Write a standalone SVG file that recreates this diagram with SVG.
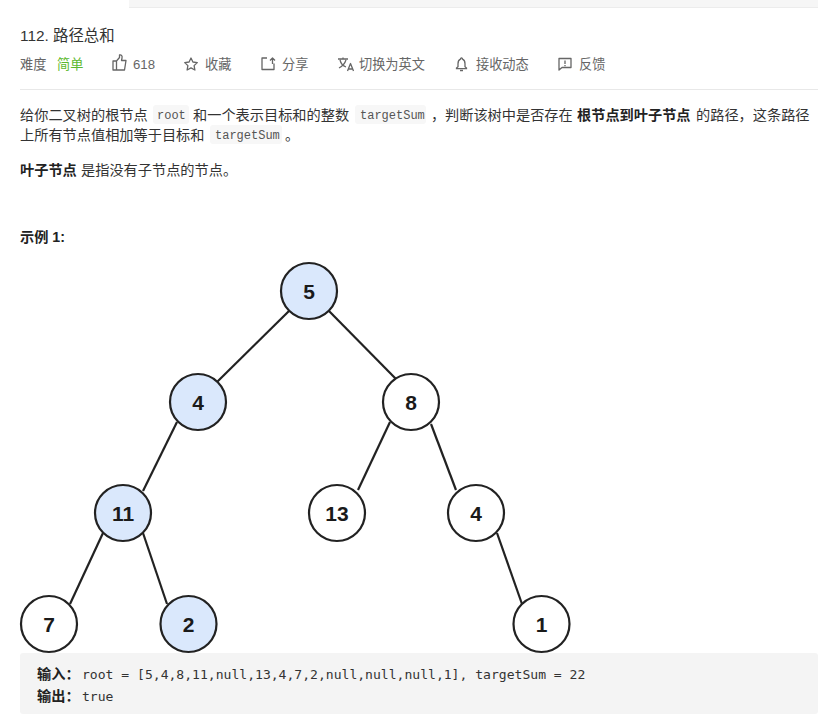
<svg xmlns="http://www.w3.org/2000/svg" width="818" height="714" viewBox="0 0 818 714">
<style>
text{font-family:"Liberation Sans","Noto Sans CJK SC",sans-serif}
.t{font-size:14.2px;fill:#333}
.b{font-size:14.2px;fill:#222;font-weight:bold}
.m{font-size:13.2px;fill:#666}
.c{font-family:"Liberation Mono","Noto Sans CJK SC",monospace;font-size:12px;fill:#555}
.p{font-family:"DejaVu Sans Mono","Noto Sans CJK SC",monospace;font-size:13.07px;fill:#333}
.chip{fill:#f7f7f7}
.ic{fill:none;stroke:#666;stroke-width:1.3;stroke-linejoin:round}
.n{stroke:#222;stroke-width:2.2}
.w{fill:#fff}.h{fill:#dae8fc}
.l{font-size:21px;font-weight:bold;fill:#1a1a1a;text-anchor:middle}
.e{stroke:#222;stroke-width:2.2;fill:none}
</style>
<rect width="818" height="714" fill="#fff"/>
<rect x="129" y="0" width="689" height="7.5" fill="#f6f6f6"/>
<rect x="129" y="7" width="689" height="1" fill="#ececec"/>
<text x="20" y="41" style="font-size:15.4px;fill:#333">112. 路径总和</text>
<text x="20" y="69" class="m">难度</text>
<text x="57" y="69" style="font-size:13.2px;fill:#5cb82e">简单</text>
<path class="ic" d="M113 61v9h3.500v-9zM116.500 61l3-3.500v-2.500c2-.5 3 1 2.500 3l-.5 2.500h4.500l-1.500 9.500h-8.500"/>
<text x="133" y="69" class="m">618</text>
<path class="ic" d="M191 58l1.900 4 4.400.6-3.200 3 .8 4.400-3.900-2.100-3.900 2.100.8-4.400-3.200-3 4.400-.6z"/>
<text x="205" y="69" class="m">收藏</text>
<path class="ic" d="M267 58h-5v11.500h12v-6M270 60.500l2.500-2.500 2.500 2.500M272.500 58v6"/>
<text x="282" y="69" class="m">分享</text>
<path class="ic" d="M338 59h10M343 59v-1.500M340 60c1 4 3 6 6 7M346 60c-1 3-3 6-7 8"/>
<path class="ic" d="M347.500 71l3-7.500 3 7.500M348.500 69h4"/>
<text x="359" y="69" class="m">切换为英文</text>
<path d="M461.500 58a1 1 0 0 1 1 1.200c2 .8 2.500 2.500 2.500 4.500v3l1.500 1.300v.7h-10v-.7l1.500-1.300v-3c0-2 .5-3.700 2.500-4.500a1 1 0 0 1 1-1.200z" fill="none" stroke="#666" stroke-width="1.300"/>
<path d="M460 70.500h3" stroke="#666" stroke-width="1.500"/>
<text x="476" y="69" class="m">接收动态</text>
<path class="ic" d="M559 58.500h12v9h-9l-3 2.500z"/>
<path d="M565 60.500v3.500M565 65v1.300" stroke="#666" stroke-width="1.300"/>
<text x="579" y="69" class="m">反馈</text>
<rect x="20" y="89" width="798" height="1" fill="#e8e8e8"/>
<text x="20" y="120" class="t">给你二叉树的根节点</text>
<rect class="chip" x="153" y="105" width="36" height="19" rx="3"/>
<text x="157" y="119" class="c">root</text>
<text x="193" y="120" class="t">和一个表示目标和的整数</text>
<rect class="chip" x="355" y="105" width="71" height="19" rx="3"/>
<text x="360" y="119" class="c">targetSum</text>
<text x="431" y="120" class="t">，</text>
<text x="445" y="120" class="t">判断该树中是否存在</text>
<text x="577" y="120" class="b">根节点到叶子节点</text>
<text x="696" y="120" class="t">的路径，这条路径</text>
<text x="20" y="140" class="t">上所有节点值相加等于目标和</text>
<rect class="chip" x="210" y="125" width="72" height="19" rx="3"/>
<text x="215" y="139" class="c">targetSum</text>
<text x="285" y="140" class="t">。</text>
<text x="20" y="175" class="b">叶子节点</text>
<text x="81" y="175" class="t">是指没有子节点的节点。</text>
<text x="20" y="242" class="b">示例 1:</text>
<g id="connectors">
<path class="e" d="M289 311L217 382"/>
<path class="e" d="M329 311L396 379"/>
<path class="e" d="M177 422L143 491"/>
<path class="e" d="M390 422L358 490"/>
<path class="e" d="M431 424L456 490"/>
<path class="e" d="M103 533L70 604"/>
<path class="e" d="M143 533L167 604"/>
<path class="e" d="M497 533L522 604"/>
</g>
<g id="n5"><circle class="n h" cx="309" cy="291" r="28"/><text class="l" x="309" y="299">5</text></g>
<g id="n4a"><circle class="n h" cx="198" cy="402" r="28"/><text class="l" x="198" y="410">4</text></g>
<g id="n8"><circle class="n w" cx="411" cy="402" r="28"/><text class="l" x="411" y="410">8</text></g>
<g id="n11"><circle class="n h" cx="123" cy="513" r="28"/><text class="l" x="123" y="521">11</text></g>
<g id="n13"><circle class="n w" cx="337" cy="513" r="28"/><text class="l" x="337" y="521">13</text></g>
<g id="n4b"><circle class="n w" cx="476" cy="513" r="28"/><text class="l" x="476" y="521">4</text></g>
<g id="n7"><circle class="n w" cx="49" cy="624" r="28"/><text class="l" x="49" y="632">7</text></g>
<g id="n2"><circle class="n h" cx="188.500" cy="624" r="28"/><text class="l" x="188.500" y="632">2</text></g>
<g id="n1"><circle class="n w" cx="541.500" cy="624" r="28"/><text class="l" x="541.500" y="632">1</text></g>
<rect x="20" y="653" width="798" height="61" rx="3" fill="#f4f4f4"/>
<text x="37" y="679" class="b">输入：</text>
<text x="82" y="679" class="p">root = [5,4,8,11,null,13,4,7,2,null,null,null,1], targetSum = 22</text>
<text x="37" y="701" class="b">输出：</text>
<text x="82" y="701" class="p">true</text>
</svg>
